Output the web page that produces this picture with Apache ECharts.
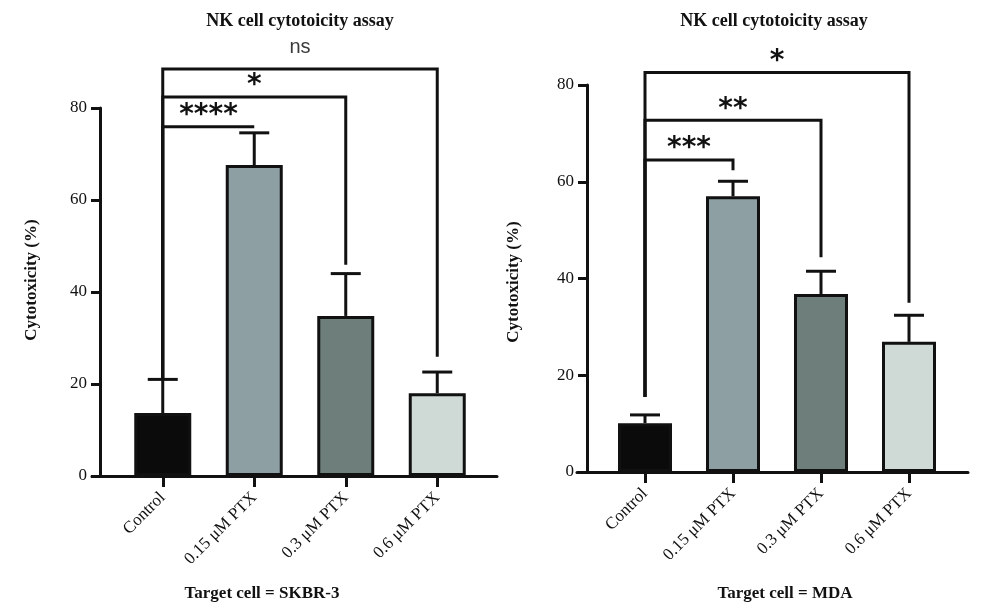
<!DOCTYPE html>
<html>
<head>
<meta charset="utf-8">
<script src="https://cdn.jsdelivr.net/npm/echarts@6/dist/echarts.min.js"></script>
<style>
  html, body { margin: 0; padding: 0; background: #fff; }
  #main { width: 1000px; height: 609px; }
</style>
</head>
<body>
<div id="main"></div>
<script>
// data
const categories = ['Control', '0.15 μM PTX', '0.3 μM PTX', '0.6 μM PTX'];
const yTicks = [0, 20, 40, 60, 80];

const skbrMean = [13.7, 67.6, 34.8, 18.0];
const skbrSd = [7.3, 7.0, 9.2, 4.6];
const mdaMean = [10.1, 57.0, 36.8, 26.9];
const mdaSd = [1.7, 3.1, 4.7, 5.5];

// significance brackets: control vs target group
const skbrSigLabel = ['ns', '*', '****'];
const skbrSigTarget = [3, 2, 1];
const skbrSigLevel = [88.5, 82.4, 75.9];
const skbrSigDrop = [25.9, 45.9, 75.9];
const skbrSigBase = 21;

const mdaSigLabel = ['*', '**', '***'];
const mdaSigTarget = [3, 2, 1];
const mdaSigLevel = [82.6, 72.7, 64.5];
const mdaSigDrop = [35.0, 44.4, 62.4];
const mdaSigBase = 15.5;

const barColors = ['#0b0b0b', '#8e9fa4', '#6d7e7b', '#cfd9d6'];
const ink = '#111';
const serif = 'Liberation Serif';

const chart = echarts.init(document.getElementById('main'));

function barSeries(gi, mean) {
    return {
        type: 'bar',
        xAxisIndex: gi,
        yAxisIndex: gi,
        data: mean,
        barWidth: gi === 0 ? 57 : 54,
        itemStyle: {
            color: p => barColors[p.dataIndex],
            borderColor: ink,
            borderWidth: 3,
        },
        silent: true,
        z: 2,
    };
}

function errorSeries(gi, mean, sd) {
    return {
        type: 'custom',
        xAxisIndex: gi,
        yAxisIndex: gi,
        data: mean.map((m, i) => [i, m, m + sd[i]]),
        renderItem: function (params, api) {
            const bot = api.coord([api.value(0), api.value(1)]);
            const top = api.coord([api.value(0), api.value(2)]);
            const style = { stroke: ink, lineWidth: 3 };
            return {
                type: 'group',
                children: [
                    { type: 'line', shape: { x1: bot[0], y1: bot[1], x2: top[0], y2: top[1] }, style },
                    { type: 'line', shape: { x1: top[0] - 15, y1: top[1], x2: top[0] + 15, y2: top[1] }, style },
                ],
            };
        },
        silent: true,
        z: 3,
    };
}

function sigSeries(gi, labels, targets, levels, drops, base) {
    return {
        type: 'custom',
        xAxisIndex: gi,
        yAxisIndex: gi,
        clip: false,
        data: labels.map((t, i) => [targets[i], levels[i]]),
        renderItem: function (params, api) {
            const i = params.dataIndex;
            const p0 = api.coord([0, base]);
            const p1 = api.coord([0, levels[i]]);
            const p2 = api.coord([targets[i], levels[i]]);
            const p3 = api.coord([targets[i], drops[i]]);
            const isNs = labels[i] === 'ns';
            return {
                type: 'group',
                children: [
                    {
                        type: 'polyline',
                        shape: { points: [p0, p1, p2, p3] },
                        style: { stroke: ink, lineWidth: 3, fill: null, lineJoin: 'miter' },
                    },
                    {
                        type: 'text',
                        x: (p1[0] + p2[0]) / 2,
                        y: p1[1] - (isNs ? 21 : 11),
                        style: {
                            text: labels[i],
                            align: 'center',
                            verticalAlign: 'middle',
                            fill: isNs ? '#3a3a3a' : ink,
                            font: isNs ? '20px "Liberation Sans"' : 'bold 28px "DejaVu Sans"',
                        },
                    },
                ],
            };
        },
        silent: true,
        z: 4,
    };
}

function catAxis(gi) {
    return {
        type: 'category',
        gridIndex: gi,
        data: categories,
        axisLine: { show: false },
        axisTick: { show: true, alignWithLabel: true, length: 11, lineStyle: { color: ink, width: 3 } },
        axisLabel: { rotate: 45, margin: 19, color: ink, fontFamily: serif, fontSize: 17, interval: 0 },
        splitLine: { show: false },
    };
}

function lineAxis(gi) {
    return {
        type: 'value',
        gridIndex: gi,
        min: 0,
        max: 1,
        axisLine: { show: true, lineStyle: { color: ink, width: 3 } },
        axisTick: { show: false },
        axisLabel: { show: false },
        splitLine: { show: false },
    };
}

function valAxis(gi, offset, gap, pad) {
    return {
        type: 'value',
        gridIndex: gi,
        min: yTicks[0],
        max: yTicks[yTicks.length - 1],
        interval: yTicks[1] - yTicks[0],
        offset,
        name: 'Cytotoxicity (%)',
        nameLocation: 'middle',
        nameGap: gap,
        nameTextStyle: { color: ink, fontFamily: serif, fontSize: 17, fontWeight: 'bold', padding: pad },
        axisLine: { show: true, lineStyle: { color: ink, width: 3 } },
        axisTick: { show: true, length: 9, lineStyle: { color: ink, width: 3 } },
        axisLabel: { margin: 13, color: ink, fontFamily: serif, fontSize: 17 },
        splitLine: { show: false },
    };
}

function hiddenAxis(gi) {
    return { type: 'value', gridIndex: gi, min: 0, max: 1, show: false };
}

const option = {
    backgroundColor: '#fff',
    animation: false,
    grid: [
        { left: 117, top: 108, width: 366, height: 368 },
        { left: 92, top: 108, width: 405, height: 368 },
        { left: 601, top: 85, width: 352, height: 387 },
        { left: 577, top: 85, width: 391, height: 387 },
    ],
    xAxis: [catAxis(0), lineAxis(1), catAxis(2), lineAxis(3)],
    yAxis: [valAxis(0, 17, 60, [0, 0, 0, 24]), hiddenAxis(1), valAxis(2, 14, 65, [0, 7, 0, 0]), hiddenAxis(3)],
    series: [
        barSeries(0, skbrMean),
        errorSeries(0, skbrMean, skbrSd),
        sigSeries(0, skbrSigLabel, skbrSigTarget, skbrSigLevel, skbrSigDrop, skbrSigBase),
        barSeries(2, mdaMean),
        errorSeries(2, mdaMean, mdaSd),
        sigSeries(2, mdaSigLabel, mdaSigTarget, mdaSigLevel, mdaSigDrop, mdaSigBase),
    ],
    graphic: [
        { type: 'text', x: 300, y: 21, style: { text: 'NK cell cytotoicity assay', align: 'center', verticalAlign: 'middle', fill: ink, font: 'bold 18px "Liberation Serif"' } },
        { type: 'text', x: 774, y: 21, style: { text: 'NK cell cytotoicity assay', align: 'center', verticalAlign: 'middle', fill: ink, font: 'bold 18px "Liberation Serif"' } },
        { type: 'text', x: 262, y: 594, style: { text: 'Target cell = SKBR-3', align: 'center', verticalAlign: 'middle', fill: ink, font: 'bold 17px "Liberation Serif"' } },
        { type: 'text', x: 785, y: 594, style: { text: 'Target cell = MDA', align: 'center', verticalAlign: 'middle', fill: ink, font: 'bold 17px "Liberation Serif"' } },
    ],
};

chart.setOption(option);
</script>
</body>
</html>
